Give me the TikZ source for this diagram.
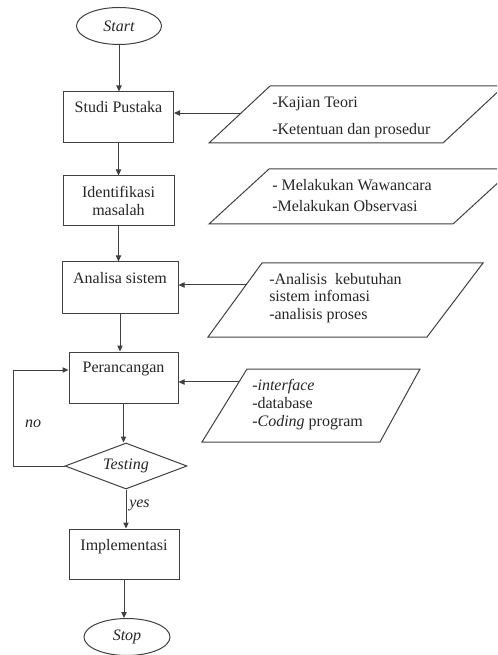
\documentclass[tikz,border=0pt]{standalone}
\usepackage{fontspec}
\setmainfont{Liberation Serif}
\usetikzlibrary{arrows.meta,shapes.geometric,calc}
\newcommand\pxu{0.75pt}
\begin{document}
\begin{tikzpicture}[x=0.75pt,y=-0.75pt,
  line/.style={draw=black!75,line width=0.75pt},
  arr/.style={line,-{Triangle[length=4.5pt,width=4pt]}},
  txt/.style={text=black!85,font=\fontsize{12}{13}\selectfont,inner sep=0pt},
  itx/.style={text=black!85,font=\fontsize{12}{13}\selectfont\itshape,inner sep=0pt},
  box/.style={line,rectangle,inner sep=0pt},
  term/.style={line,ellipse,inner sep=0pt,itx},
  dec/.style={line,diamond,inner sep=0pt,aspect=2.65,itx}]
\clip (0,0) rectangle (497,655);
% main column
\node[term,minimum width=85*\pxu,minimum height=37*\pxu] (start) at (119,26) {Start};
\node[box,minimum width=110*\pxu,minimum height=51*\pxu] (sp) at (118.5,117.5) {};
\node[txt,anchor=base] (spt) at (118.5,112.5) {Studi Pustaka};
\node[box,minimum width=111*\pxu,minimum height=50*\pxu,txt,align=center] (id) at (118.5,201) {Identifikasi\\masalah};
\node[box,minimum width=116*\pxu,minimum height=51*\pxu] (as) at (120,287.5) {};
\node[txt,anchor=base] (ast) at (120,283.5) {Analisa sistem};
\node[box,minimum width=109*\pxu,minimum height=51*\pxu] (pr) at (123.5,377.5) {};
\node[txt,anchor=base] (prt) at (123.5,372.5) {Perancangan};
\node[dec,minimum width=122*\pxu,minimum height=46*\pxu] (ts) at (126,466) {Testing};
\node[box,minimum width=110*\pxu,minimum height=50*\pxu] (im) at (124,554) {};
\node[txt,anchor=base] (imt) at (124,550.5) {Implementasi};
\node[term,minimum width=86*\pxu,minimum height=37*\pxu] (stop) at (127,637) {Stop};
% main arrows
\draw[arr] (start.south) -- (start.south |- sp.north);
\draw[arr] (sp.south) -- (sp.south |- id.north);
\draw[arr] (id.south) -- (id.south |- as.north);
\draw[arr] (as.south) -- (as.south |- pr.north);
\draw[arr] (pr.south) -- (pr.south |- ts.north);
\draw[arr] (ts.south) -- (ts.south |- im.north);
\draw[arr] (im.south) -- (im.south |- stop.north);
% loop
\coordinate (lp) at (13,370);
\draw[arr] (ts.west) -| (lp) -- (lp -| pr.west);
\node[itx] (no) at (33,424) {no};
\node[itx,anchor=west] (yes) at (129,505) {yes};
% parallelogram 1
\coordinate (p1bl) at (209,143); \coordinate (p1tl) at (270,86);
\coordinate (p1tr) at (504,86); \coordinate (p1br) at (443,143);
\draw[line] (p1bl) -- (p1tl) -- (p1tr) -- (p1br) -- cycle;
\coordinate (k1) at ($(p1bl)!0.526!(p1tl)$);
\draw[arr] (k1) -- (k1 -| sp.east);
\node[txt,anchor=base west] (t1a) at (272,107.5) {-Kajian Teori};
\node[txt,anchor=base west] (t1b) at (272,134.5) {-Ketentuan dan prosedur};
% parallelogram 2
\coordinate (p2bl) at (209,224); \coordinate (p2tl) at (269,169);
\coordinate (p2tr) at (513,169); \coordinate (p2br) at (453,224);
\draw[line] (p2bl) -- (p2tl) -- (p2tr) -- (p2br) -- cycle;
\node[txt,anchor=base west] (t2a) at (272,190.5) {- Melakukan Wawancara};
\node[txt,anchor=base west] (t2b) at (272,211.5) {-Melakukan Observasi};
% parallelogram 3
\coordinate (p3bl) at (208,337); \coordinate (p3tl) at (262,263);
\coordinate (p3tr) at (483,263); \coordinate (p3br) at (427,337);
\draw[line] (p3bl) -- (p3tl) -- (p3tr) -- (p3br) -- cycle;
\coordinate (k3) at ($(p3bl)!0.703!(p3tl)$);
\draw[arr] (k3) -- (k3 -| as.east);
\node[txt,anchor=base west] (t3a) at (269,284.5) {-Analisis\ \ kebutuhan};
\node[txt,anchor=base west] (t3b) at (269,301.5) {sistem infomasi};
\node[txt,anchor=base west] (t3c) at (269,319.5) {-analisis proses};
% parallelogram 4
\coordinate (p4bl) at (202,442); \coordinate (p4tl) at (247,369);
\coordinate (p4tr) at (420,369); \coordinate (p4br) at (380,442);
\draw[line] (p4bl) -- (p4tl) -- (p4tr) -- (p4br) -- cycle;
\coordinate (k4) at ($(p4bl)!0.822!(p4tl)$);
\draw[arr] (k4) -- (k4 -| pr.east);
\node[txt,anchor=base west] (t4a) at (252,390.5) {-\textit{interface}};
\node[txt,anchor=base west] (t4b) at (252,408.5) {-database};
\node[txt,anchor=base west] (t4c) at (252,426.5) {-\textit{Coding} program};
\end{tikzpicture}
\end{document}
